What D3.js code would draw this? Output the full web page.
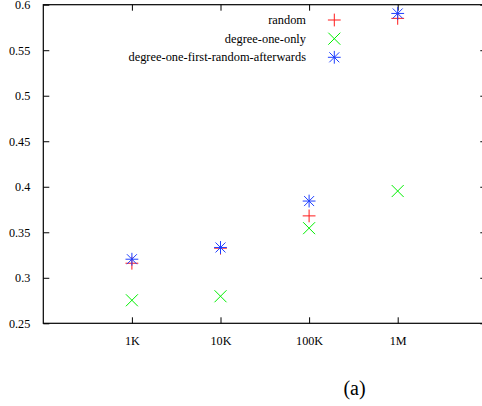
<!DOCTYPE html>
<html>
<head>
<meta charset="utf-8">
<script src="https://cdn.jsdelivr.net/npm/d3@7"></script>
<style>
  html, body { margin: 0; padding: 0; background: #fff; }
  svg { display: block; }
  text { font-family: "Liberation Serif", "Times New Roman", serif; fill: #000; }
</style>
</head>
<body>
<svg id="chart" width="482" height="406"></svg>
<script>
// ---- data ----
const categories = ["1K", "10K", "100K", "1M"];
const sizes = [1e3, 1e4, 1e5, 1e6];
const randomVals = [0.316, 0.3325, 0.368, 0.585];
const degreeOneOnly = [0.2753, 0.2797, 0.3545, 0.3953];
const degreeOneFirst = [0.3204, 0.3333, 0.3843, 0.5904];
const yTickValues = [0.25, 0.3, 0.35, 0.4, 0.45, 0.5, 0.55, 0.6];
const seriesNames = ["random", "degree-one-only", "degree-one-first-random-afterwards"];
const seriesColors = ["#ff1a1a", "#00f000", "#1f3fff"];
const seriesShapes = ["plus", "cross", "star"];
const title = "(a)";

// ---- layout ----
const svg = d3.select("#chart");
const L = 43.3, R = 486.3, T = 4.7, B = 323.3;
const x = d3.scaleLog().domain([1e2, 1e7]).range([L, R]);
const y = d3.scaleLinear().domain([0.25, 0.6]).range([B, T]);
const tickLen = 6;

// frame
const frame = svg.append("g").attr("stroke", "#000").attr("stroke-width", 1.2).attr("fill", "none");
frame.append("rect").attr("x", L).attr("y", T).attr("width", R - L).attr("height", B - T);

// y axis (left) and mirrored ticks (right)
const yAxisL = d3.axisLeft(y).tickValues(yTickValues).tickSizeInner(-tickLen).tickSizeOuter(0).tickPadding(7 + tickLen)
  .tickFormat(d => d3.format("")(+d.toFixed(2)));
const gy = svg.append("g").attr("transform", `translate(${L},0)`).call(yAxisL);
const yAxisR = d3.axisRight(y).tickValues(yTickValues).tickSizeInner(-tickLen).tickSizeOuter(0).tickFormat("");
const gyr = svg.append("g").attr("transform", `translate(${R},0)`).call(yAxisR);

// x axis (bottom) and mirrored ticks (top)
const xAxisB = d3.axisBottom(x).tickValues(sizes).tickSizeInner(-tickLen).tickSizeOuter(0).tickPadding(16 + tickLen)
  .tickFormat((d, i) => categories[i]);
const gx = svg.append("g").attr("transform", `translate(0,${B})`).call(xAxisB);
const xAxisT = d3.axisTop(x).tickValues(sizes).tickSizeInner(-tickLen).tickSizeOuter(0).tickFormat("");
const gxt = svg.append("g").attr("transform", `translate(0,${T})`).call(xAxisT);

[gy, gyr, gx, gxt].forEach(g => {
  g.attr("font-family", null);
  g.select(".domain").remove();
  g.selectAll(".tick line").attr("stroke", "#000").attr("stroke-width", 1);
  g.selectAll("text").attr("font-size", 12.2).attr("fill", "#000");
});
gx.selectAll("text").attr("dy", "0");

// ---- markers ----
function drawMarker(g, shape, cx, cy, color) {
  const s = 6.4;
  const mg = g.append("g").attr("stroke", color).attr("stroke-width", 1).attr("fill", "none");
  const segs = [];
  if (shape === "plus" || shape === "star") {
    segs.push([cx - s, cy, cx + s, cy], [cx, cy - s, cx, cy + s]);
  }
  if (shape === "cross" || shape === "star") {
    const d = shape === "star" ? 5.0 : 6;
    segs.push([cx - d, cy - d, cx + d, cy + d], [cx - d, cy + d, cx + d, cy - d]);
  }
  segs.forEach(p => mg.append("line").attr("x1", p[0]).attr("y1", p[1]).attr("x2", p[2]).attr("y2", p[3]));
}

const seriesData = [randomVals, degreeOneOnly, degreeOneFirst];
const pts = svg.append("g");
seriesData.forEach((vals, si) => {
  vals.forEach((v, i) => drawMarker(pts, seriesShapes[si], x(sizes[i]), y(v), seriesColors[si]));
});

// ---- legend ----
const legend = svg.append("g");
const legendY = [20, 38.7, 57.3];
seriesNames.forEach((name, i) => {
  legend.append("text").attr("x", 306).attr("y", legendY[i]).attr("dy", "0.33em")
    .attr("text-anchor", "end").attr("font-size", 12.4).text(name);
  drawMarker(legend, seriesShapes[i], 334.3, legendY[i], seriesColors[i]);
});

// ---- caption ----
svg.append("text").attr("x", 354.5).attr("y", 395).attr("text-anchor", "middle")
  .attr("font-size", 20).text(title);
</script>
</body>
</html>
